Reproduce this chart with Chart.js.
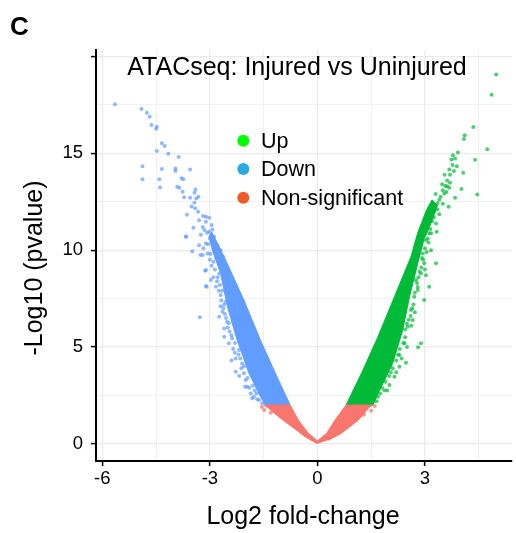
<!DOCTYPE html>
<html>
<head>
<meta charset="utf-8">
<title>ATACseq: Injured vs Uninjured</title>
<script src="https://cdn.jsdelivr.net/npm/chart.js@4.4.1/dist/chart.umd.min.js"></script>
<style>
  body { margin: 0; background: #fff; }
  canvas { display: block; }
</style>
</head>
<body>
<canvas id="volcano" width="516" height="533"></canvas>
<script>
// axis ticks (empty label = minor grid line only)
var xTicks = [-6, -4.5, -3, -1.5, 0, 1.5, 3, 4.5];
var xLabels = ['-6', '', '-3', '', '0', '', '3', ''];
var yTicks = [0, 2.5, 5, 7.5, 10, 12.5, 15, 17.5, 20];
var yLabels = ['0', '', '5', '', '10', '', '15', '', ''];

var seriesNames = ['Up', 'Down', 'Non-significant'];
var legendColors = ['#00FF00', '#29ABE2', '#F15A24'];

// dense part of each cloud, traced round its edge [log2fc, -log10 p]
var downCore = [[-0.76,2.0],[-1.01,3.0],[-1.17,3.64],[-1.59,5.36],[-2.05,7.42],[-2.56,9.49],[-2.80,10.4],[-2.95,10.95],
  [-3.02,10.7],[-2.93,10.0],[-2.70,8.8],[-2.51,7.08],[-2.24,5.36],[-1.91,3.64],[-1.59,2.43],[-1.45,2.0]];
var upCore = [[0.80,2.0],[1.23,3.64],[1.69,5.53],[2.15,7.59],[2.61,9.66],[2.80,10.9],[3.05,12.1],[3.2,12.6],
  [3.35,12.3],[3.15,11.3],[2.98,10.6],[2.80,9.32],[2.57,7.59],[2.38,5.87],[2.10,4.15],[1.72,2.7],[1.55,2.0]];
var nonsigCore = [[0,0],[-0.34,0.36],[-0.71,0.88],[-1.08,1.39],[-1.36,1.83],[-1.50,2.0],[-0.76,2.0],[-0.53,1.22],
  [-0.25,0.54],[0,0.15],[0.26,0.54],[0.49,1.22],[0.80,2.0],[1.55,2.0],[1.46,1.91],[1.14,1.22],[0.67,0.54],[0.30,0.18]];

// single peaks outside the dense part
var downPoints = [[-5.65,17.54],[-4.91,17.29],[-4.76,17.10],[-4.68,16.89],[-4.63,16.46],[-4.48,16.37],[-4.50,16.27],
  [-4.34,15.52],[-4.26,15.38],[-4.48,15.12],[-4.16,14.98],[-3.87,14.81],[-4.88,14.34],[-4.34,14.19],[-3.96,14.22],
  [-3.96,14.09],[-3.55,14.17],[-4.88,13.66],[-4.41,13.67],[-4.39,13.24],[-3.79,13.72],[-3.74,13.66],[-3.91,13.28],
  [-3.85,13.22],[-3.76,13.02],[-3.72,12.73],[-3.55,12.71],[-3.40,13.14],[-3.43,12.96],[-3.32,12.76],[-3.38,12.67],
  [-3.43,12.45],[-3.51,12.26],[-3.41,12.16],[-3.33,11.98],[-3.64,11.83],[-3.19,11.76],[-3.11,11.73],[-3.02,11.67],
  [-3.30,11.55],[-3.11,11.47],[-3.46,11.16],[-3.15,11.04],[-3.02,10.95],[-2.93,11.07],[-3.67,10.69],[-2.88,10.69],
  [-3.30,10.26],[-3.11,10.35],[-2.79,10.26],[-3.49,9.95],[-3.26,9.75],[-3.06,9.83],[-2.70,10.0],[-2.63,9.66],
  [-3.20,9.75],[-3.11,8.97],[-3.09,8.11],[-3.28,6.53],[-2.97,8.46],[-2.83,8.11],[-2.74,8.80],[-2.65,6.82],
  [-2.74,6.56],[-2.60,5.96],[-2.60,5.53],[-2.47,5.19],[-2.28,4.41],[-2.28,3.72],[-2.05,3.64],[-1.96,2.94],
  [-1.86,2.60],[-1.63,2.26],[-1.54,2.09],[-2.70,7.68],[-2.56,7.33],[-2.47,6.22],[-2.19,4.84],[-2.10,4.15],
  [-1.77,2.43],[-3.13,8.94],[-3.11,8.15],[-3.66,10.7],[-3.18,10.1],[-1.70,2.6],[-1.80,3.0],[-2.0,3.3],[-2.12,3.9],
  [-2.2,4.6],[-2.35,4.9],[-2.4,5.6],[-2.5,6.0],[-2.55,6.5],[-2.62,7.0],[-2.68,7.4],[-2.75,7.9],[-2.8,8.4],
  [-2.9,8.6],[-2.95,9.2],[-3.0,9.5],[-2.85,9.9],[-2.95,10.5],[-3.05,10.3],
  [-1.68,2.3],[-1.75,2.75],[-1.9,2.9],[-1.95,3.4],[-2.05,4.0],[-2.15,4.4],[-2.3,4.7],[-2.3,5.2],[-2.38,5.45],
  [-2.45,5.8],[-2.52,6.3],[-2.58,6.7],[-2.6,7.2],[-2.7,7.1],[-2.66,7.9],[-2.72,8.2],[-2.78,8.6],[-2.86,9.0],
  [-2.9,9.4],[-2.82,9.6],[-2.98,9.8],[-3.0,10.6],[-3.08,10.9],[-2.95,11.3],[-3.2,11.2],[-3.25,10.8],
  [-1.82,2.35],[-2.02,2.95],[-2.18,3.5],[-2.4,4.3]];
var upPoints = [[4.99,19.08],[4.86,18.03],[4.35,16.36],[4.11,15.93],[4.09,15.74],[4.74,15.21],[3.92,15.05],
  [3.84,14.74],[3.74,14.69],[4.40,14.67],[3.89,14.34],[3.77,14.40],[4.07,14.0],[3.68,14.17],[3.81,14.09],
  [4.02,13.16],[4.46,12.88],[3.70,13.48],[3.68,13.22],[3.57,13.31],[3.84,12.71],[3.66,12.24],[3.54,12.93],
  [3.44,12.76],[3.35,12.42],[3.40,11.86],[3.31,11.38],[3.33,10.95],[3.17,10.87],[3.07,11.21],[3.12,10.87],
  [3.03,10.52],[3.31,9.32],[3.03,8.71],[3.12,8.11],[2.98,7.42],[2.80,7.94],[2.89,5.19],[2.81,4.98],[2.47,4.18],
  [2.29,4.58],[2.01,3.03],[2.61,6.91],[2.66,6.39],[2.52,6.04],[2.43,5.19],[2.29,3.98],[2.15,3.46],[1.87,2.77],
  [1.69,2.43],[2.98,9.32],[2.89,8.80],[2.75,8.46],[3.17,10.0],[2.94,9.83],[1.75,2.6],[1.9,3.2],[2.05,3.7],
  [2.2,4.3],[2.3,4.9],[2.45,5.5],[2.5,6.2],[2.6,6.6],[2.68,7.2],[2.72,7.8],[2.78,8.3],[2.85,8.9],[2.92,9.6],
  [3.0,10.1],[3.1,10.4],[3.2,11.5],[3.25,12.0],[3.5,12.4],[3.6,13.0],[3.62,13.6],[3.55,13.9],[3.78,14.9],
  [3.48,13.4],[3.3,12.9],[3.2,12.2],[3.1,11.8],
  [1.65,2.2],[1.8,2.9],[1.95,2.75],[2.0,3.5],[2.1,3.9],[2.2,3.7],[2.25,4.6],[2.35,4.4],[2.4,5.2],[2.5,5.0],
  [2.45,5.9],[2.55,6.4],[2.62,6.1],[2.65,7.0],[2.72,6.8],[2.7,7.6],[2.8,8.1],[2.82,8.6],[2.9,9.1],[2.95,9.5],
  [3.0,9.0],[3.05,9.9],[3.08,10.6],[3.15,11.1],[3.25,11.7],[3.35,12.1],[3.4,12.6],[3.5,13.1],[3.62,13.3],[3.7,13.9]];
var nonsigPoints = [[-1.55,1.9],[-1.48,1.75],[-1.3,1.6],[1.6,1.95],[1.5,1.7],[1.3,1.5]];

function toXY(list) {
  return list.map(function (p) { return {x: p[0], y: p[1]}; });
}

function cloud(list, color) {
  return {
    type: 'line',
    data: toXY(list),
    borderColor: color,
    borderWidth: 1,
    backgroundColor: color,
    fill: 'shape',
    pointRadius: 0,
    tension: 0,
    order: 2
  };
}

function peaks(list, color) {
  return {
    type: 'scatter',
    data: toXY(list),
    backgroundColor: color,
    borderWidth: 0,
    pointRadius: 2,
    order: 1
  };
}

var fontFamily = '"Liberation Sans", Arial, sans-serif';

var textLayer = {
  id: 'textLayer',
  afterDraw: function (chart) {
    var ctx = chart.ctx;
    ctx.save();
    ctx.fillStyle = '#000';
    ctx.textBaseline = 'alphabetic';

    ctx.font = 'bold 26px ' + fontFamily;
    ctx.textAlign = 'left';
    ctx.fillText('C', 10, 35);

    ctx.font = '25px ' + fontFamily;
    ctx.textAlign = 'center';
    ctx.fillText('ATACseq: Injured vs Uninjured', 297, 75);
    ctx.fillText('Log2 fold-change', 303, 524);

    ctx.save();
    ctx.translate(42, 268);
    ctx.rotate(-Math.PI / 2);
    ctx.fillText('-Log10 (pvalue)', 0, 0);
    ctx.restore();

    // legend
    var legendY = [140.7, 169, 197.7];
    ctx.font = '21.5px ' + fontFamily;
    ctx.textAlign = 'left';
    ctx.textBaseline = 'middle';
    for (var i = 0; i < seriesNames.length; i++) {
      ctx.fillStyle = legendColors[i];
      ctx.beginPath();
      ctx.arc(243.3, legendY[i], 6, 0, Math.PI * 2);
      ctx.fill();
      ctx.fillStyle = '#000';
      ctx.fillText(seriesNames[i], 261, legendY[i] + 1);
    }
    ctx.restore();
  }
};

function gridFor(ticksList) {
  return {
    color: '#EBEBEB',
    lineWidth: function (c) { return c.index % 2 === 0 ? 1.2 : 0.7; },
    drawTicks: true,
    tickLength: 5,
    tickWidth: 1.5,
    tickColor: function (c) { return c.index % 2 === 0 ? '#000' : 'rgba(0,0,0,0)'; }
  };
}

var ctxVolcano = document.getElementById('volcano');
var volcanoConfig = {
  type: 'scatter',
  data: {
    datasets: [
      cloud(nonsigCore, '#F8766D'),
      cloud(downCore, '#619CFF'),
      cloud(upCore, '#00BA38'),
      peaks(nonsigPoints, 'rgba(248,118,109,0.75)'),
      peaks(downPoints, 'rgba(97,156,255,0.7)'),
      peaks(upPoints, 'rgba(0,186,56,0.7)')
    ]
  },
  options: {
    responsive: false,
    animation: false,
    layout: { padding: { top: 50, right: 1, left: 0, bottom: 0 } },
    plugins: {
      legend: { display: false },
      tooltip: { enabled: false }
    },
    scales: {
      x: {
        type: 'linear',
        min: -6.177,
        max: 5.43,
        afterBuildTicks: function (axis) { axis.ticks = xTicks.map(function (v) { return {value: v}; }); },
        afterFit: function (axis) { axis.height = 72; },
        ticks: {
          callback: function (v, i) { return xLabels[i]; },
          color: '#000',
          padding: 2,
          maxRotation: 0,
          font: { family: fontFamily, size: 18.5 }
        },
        grid: gridFor(xTicks),
        border: { display: true, color: '#000', width: 2 }
      },
      y: {
        type: 'linear',
        min: -0.89,
        max: 20.34,
        afterBuildTicks: function (axis) { axis.ticks = yTicks.map(function (v) { return {value: v}; }); },
        afterFit: function (axis) { axis.width = 96; },
        ticks: {
          callback: function (v, i) { return yLabels[i]; },
          color: '#000',
          padding: 8,
          font: { family: fontFamily, size: 18.5 }
        },
        grid: gridFor(yTicks),
        border: { display: true, color: '#000', width: 2 }
      }
    }
  },
  plugins: [textLayer]
};
var volcanoChart = new Chart(ctxVolcano, volcanoConfig);
</script>
</body>
</html>
